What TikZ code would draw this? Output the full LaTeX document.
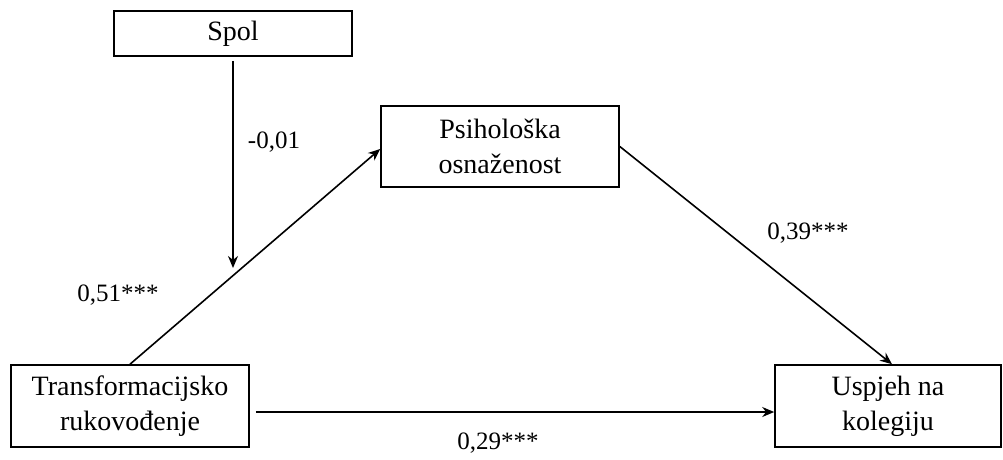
\documentclass[tikz,border=0pt]{standalone}
\usepackage{fontspec}
\setmainfont{Liberation Serif}
\usetikzlibrary{arrows.meta}
\tikzset{
  varbox/.style={draw, line width=1.6pt, rectangle, align=center, inner sep=0pt,
                 font=\fontsize{28}{35}\selectfont},
  coef/.style={font=\fontsize{25}{30}\selectfont, inner sep=0pt},
  link/.style={line width=1.6pt, -{Stealth[length=12pt,width=10pt]}}
}
\begin{document}
\begin{tikzpicture}[x=1pt,y=-1pt]
\useasboundingbox (0,0) rectangle (1003,460);
% variable boxes
\node[varbox, minimum width=238pt, minimum height=45pt] (spol) at (233,33.5) {Spol};
\node[varbox, minimum width=238pt, minimum height=81pt] (psih) at (500,146.5) {Psihološka\\osnaženost};
\node[varbox, minimum width=238pt, minimum height=82pt] (trans) at (130,406) {Transformacijsko\\rukovođenje};
\node[varbox, minimum width=226pt, minimum height=82pt] (usp) at (888,406) {Uspjeh na\\kolegiju};
% moderator arrow ends on the a-path
\coordinate (mod) at (233,268);
% paths
\draw[link] ([yshift=-4pt]spol.south) -- (mod);
\draw[link] (trans.north) -- ([yshift=-2.5pt]psih.west);
\draw[link] (psih.east) -- ([xshift=4pt]usp.north);
\draw[link] ([xshift=6pt,yshift=-6pt]trans.east) -- ([yshift=-6pt]usp.west);
% coefficients
\node[coef] (cmod) at (274,142) {-0,01};
\node[coef] (ca) at (118,295) {0,51***};
\node[coef] (cb) at (808,233) {0,39***};
\node[coef] (cc) at (498,443) {0,29***};
\end{tikzpicture}
\end{document}
